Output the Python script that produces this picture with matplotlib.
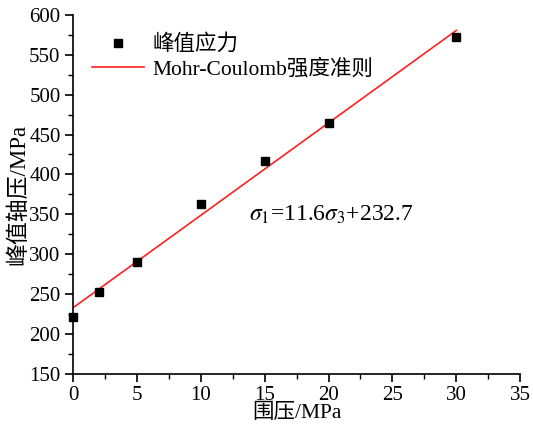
import numpy as np
import matplotlib
matplotlib.use("Agg")
import matplotlib.pyplot as plt
from matplotlib.ticker import MultipleLocator

plt.rcParams['font.family'] = ['Liberation Serif', 'Noto Sans CJK SC']
plt.rcParams['mathtext.fontset'] = 'stix'
plt.rcParams['axes.unicode_minus'] = False

# 围压与峰值轴压试验数据
sigma3 = [0, 2, 5, 10, 15, 20, 30]
sigma1 = [220.6, 252.8, 290.5, 362.5, 416.5, 464.5, 572.5]

# Mohr-Coulomb 拟合系数
slope = 11.6
intercept = 232.7
fit_x = [0, 30]

fig = plt.figure(figsize=(5.33, 4.29), dpi=100)
ax = fig.add_axes([0.137, 0.129, 0.839, 0.836])

fit_y = [slope * x + intercept for x in fit_x]
ax.plot(fit_x, fit_y, color='#ff2020', lw=1.2, label='Mohr-Coulomb强度准则', zorder=2)
ax.plot(sigma3, sigma1, 's', color='black', ms=6, label='峰值应力', zorder=3,
        clip_on=False)

ax.set_xlim(0, 35)
ax.set_ylim(150, 600)
ax.xaxis.set_major_locator(MultipleLocator(5))
ax.xaxis.set_minor_locator(MultipleLocator(2.5))
ax.yaxis.set_major_locator(MultipleLocator(50))
ax.yaxis.set_minor_locator(MultipleLocator(25))

for s in ['top', 'right']:
    ax.spines[s].set_visible(False)
for s in ['left', 'bottom']:
    ax.spines[s].set_linewidth(1.2)
ax.tick_params(which='major', direction='out', length=6, width=1.2, labelsize=15, pad=3)
ax.tick_params(which='minor', direction='out', length=3.5, width=1.0)

ax.set_xlabel('围压/MPa', fontsize=15.5, labelpad=-1)
ax.set_ylabel('峰值轴压/MPa', fontsize=16.5, labelpad=0)

ax.text(13.8, 349, r'$\sigma_1$=11.6$\sigma_3$+232.7', fontsize=17, va='center')

handles, labels = ax.get_legend_handles_labels()
ax.legend(handles[::-1], labels[::-1], loc='upper left', frameon=False, fontsize=15.5,
          bbox_to_anchor=(0.0, 1.0), handlelength=2.4, handletextpad=0.4,
          labelspacing=0.2)

fig.savefig('out.png', dpi=100)
